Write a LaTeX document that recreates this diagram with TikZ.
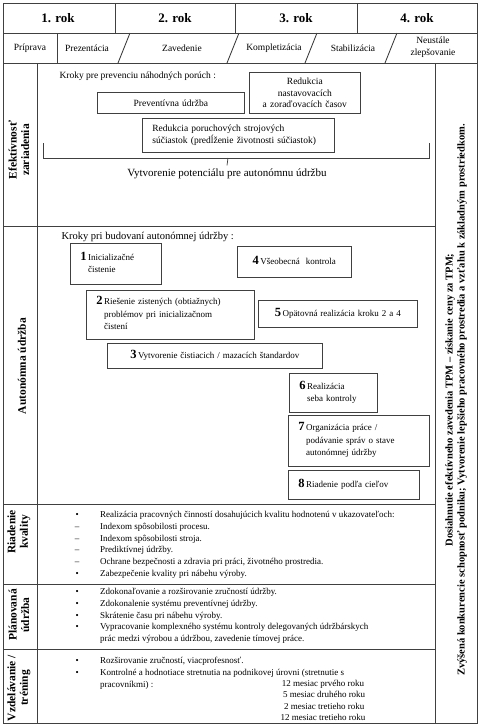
\documentclass[tikz,border=0pt]{standalone}
\usepackage{fontspec}
\setmainfont{Liberation Serif}

% cislo kroku a zvysok textu s visiacim odsadenim
\newcommand\krokt[2]{{\fontsize{12.5}{12.5}\selectfont\bfseries #1}\,\begin{tabular}[t]{@{}l@{}}#2\end{tabular}}
\newcommand\bod{\makebox[10pt][c]{\textbullet}\hspace{18pt}}
\newcommand\pomlcka{\makebox[10pt][c]{--}\hspace{18pt}}
\newcommand\nic{\makebox[10pt]{}\hspace{18pt}}

\tikzset{
    ciara/.style={draw=black!75, line width=0.9pt},
    rok/.style={font=\fontsize{13}{15}\selectfont\bfseries},
    faza/.style={font=\fontsize{9.5}{11}\selectfont, align=center},
    oblast/.style={rotate=90, font=\fontsize{11.5}{12.5}\selectfont\bfseries, align=center},
    box/.style={draw=black!75, line width=0.7pt, anchor=north west, inner xsep=10pt, inner ysep=0pt,
        align=left, font=\fontsize{9}{12.5}\selectfont},
    zoznam/.style={anchor=north west, inner sep=0pt, align=left, font=\fontsize{9}{11.8}\selectfont}
}

\begin{document}
\begin{tikzpicture}[x=1pt, y=-1pt]

    \useasboundingbox (0,0) rectangle (479,726);

    % tabulka
    \draw[ciara] (3,3) rectangle (477,723);
    \draw[ciara] (3,33) -- (477,33);
    \draw[ciara] (3,63) -- (477,63);
    \foreach \x in {115,235,357}
        \draw[ciara] (\x,3) -- (\x,33);
    \draw[ciara] (57,33) -- (57,63);
    \foreach \x in {118,227,305,385}
        \draw[ciara] (\x,63) -- (\x+12,33);
    \draw[ciara] (37,63) -- (37,723);
    \draw[ciara] (435,63) -- (435,723);
    \foreach \y in {226,504,584,649}
        \draw[ciara] (3,\y) -- (435,\y);

    % hlavicka
    \node[rok] (rok1) at (58,18) {1. rok};
    \node[rok] (rok2) at (175,18) {2. rok};
    \node[rok] (rok3) at (296,18) {3. rok};
    \node[rok] (rok4) at (417,18) {4. rok};

    \node[faza] (priprava) at (30,48) {Príprava};
    \node[faza] (prezentacia) at (87,48) {Prezentácia};
    \node[faza] (zavedenie) at (182,48) {Zavedenie};
    \node[faza] (kompletizacia) at (274,48) {Kompletizácia};
    \node[faza] (stabilizacia) at (353,48) {Stabilizácia};
    \node[faza, font=\fontsize{9.5}{12}\selectfont] (neustale) at (433,47) {Neustále\\ zlepšovanie};

    % oblasti vlavo
    \node[oblast] (efektivnost) at (19,150) {Efektívnosť\\zariadenia};
    \node[oblast] (autonomna) at (22,366) {Autonómna údržba};
    \node[oblast] (kvalita) at (19,532) {Riadenie\\kvality};
    \node[oblast] (planovana) at (19,615) {Plánovaná\\údržba};
    \node[oblast] (vzdelavanie) at (19,688) {Vzdelávanie /\\tréning};

    % ciel vpravo
    \node[oblast, font=\fontsize{10.5}{12}\selectfont\bfseries] (ciel) at (456,400)
        {Dosiahnutie efektívneho zavedenia TPM – získanie ceny za  TPM;\\
         Zvýšená konkurencie schopnosť podniku; Vytvorenie lepšieho pracovného prostredia a vzťahu k základným prostriedkom.};

    % efektivnost zariadenia
    \node[anchor=west, font=\fontsize{9.5}{11}\selectfont] (kroky1) at (56,76) {Kroky pre prevenciu náhodných porúch :};
    \node[box, align=center, font=\fontsize{9.5}{11}\selectfont, text width=127pt, minimum height=21pt] (preventivna) at (97,92) {Preventívna údržba};
    \node[box, align=center, font=\fontsize{9.5}{11.5}\selectfont, text width=91pt, minimum height=41pt] (nastavovacie) at (249,72)
        {Redukcia\\nastavovacích\\a zoraďovacích časov};
    \node[box, font=\fontsize{9.5}{12}\selectfont, text width=172pt, minimum height=34pt] (poruchove) at (142,118)
        {Redukcia poruchových strojových\\súčiastok (predĺženie životnosti súčiastok)};
    \node[font=\fontsize{11}{13}\selectfont] (potencial) at (227,174) {Vytvorenie potenciálu pre autonómnu údržbu};
    \draw[ciara, line width=0.7pt] (43,143) -- (43,158) -- (429,158) -- (429,143);
    \draw[ciara, line width=0.7pt] (228,158) -- (potencial.north);

    % autonomna udrzba
    \node[anchor=west, font=\fontsize{10.5}{12}\selectfont] (kroky2) at (58,237) {Kroky pri budovaní autonómnej údržby :};
    \node[box, text width=71pt, minimum height=41pt] (k1) at (70,243) {\krokt{1}{Inicializačné\\ čistenie}};
    \node[box, align=center, text width=94pt, minimum height=31pt] (k4) at (237,246) {\krokt{4}{Všeobecná\ \ kontrola}};
    \node[box, text width=148pt, minimum height=49pt] (k2) at (86,290)
        {\krokt{2}{Riešenie zistených (obtiažnych)\\problémov pri inicializačnom\\čistení}};
    \node[box, align=center, text width=139pt, minimum height=27pt] (k5) at (258,300) {\krokt{5}{Opätovná realizácia kroku 2 a 4}};
    \node[box, align=center, text width=195pt, minimum height=25pt] (k3) at (107,343) {\krokt{3}{Vytvorenie čistiacich / mazacích štandardov}};
    \node[box, text width=68pt, minimum height=39pt] (k6) at (289,373) {\krokt{6}{Realizácia\\ seba kontroly}};
    \node[box, text width=121pt, minimum height=51pt] (k7) at (288,415)
        {\krokt{7}{Organizácia práce /\\ podávanie správ o stave\\ autonómnej údržby}};
    \node[box, text width=111pt, minimum height=29pt] (k8) at (288,470) {\krokt{8}{Riadenie podľa cieľov}};

    % riadenie kvality
    \node[zoznam] (kvalitatext) at (72,511)
        {\bod Realizácia pracovných činností dosahujúcich  kvalitu hodnotenú v ukazovateľoch:\\
         \pomlcka Indexom spôsobilosti procesu.\\
         \pomlcka Indexom spôsobilosti stroja.\\
         \pomlcka Prediktívnej údržby.\\
         \pomlcka Ochrane bezpečnosti a zdravia pri práci, životného prostredia.\\
         \bod Zabezpečenie kvality pri nábehu výroby.};

    % planovana udrzba
    \node[zoznam] (planovanatext) at (72,588)
        {\bod Zdokonaľovanie a rozširovanie zručností údržby.\\
         \bod Zdokonalenie systému preventívnej údržby.\\
         \bod Skrátenie času pri nábehu výroby.\\
         \bod Vypracovanie komplexného systému  kontroly  delegovaných  údržbárskych\\
         \nic prác medzi výrobou a údržbou, zavedenie tímovej práce.};

    % vzdelavanie
    \node[zoznam] (vzdelavanietext) at (72,657)
        {\bod Rozširovanie zručností, viacprofesnosť.\\
         \bod Kontrolné a hodnotiace stretnutia na podnikovej úrovni (stretnutie s\\
         \nic pracovníkmi) :};
    \node[anchor=north, inner sep=0pt, align=center, font=\fontsize{9}{11.5}\selectfont] (mesiace) at (323,680)
        {12 mesiac prvého roku\\
         \ 5 mesiac druhého roku\\
         \ 2 mesiac tretieho roku\\
         12 mesiac tretieho roku};

\end{tikzpicture}
\end{document}
